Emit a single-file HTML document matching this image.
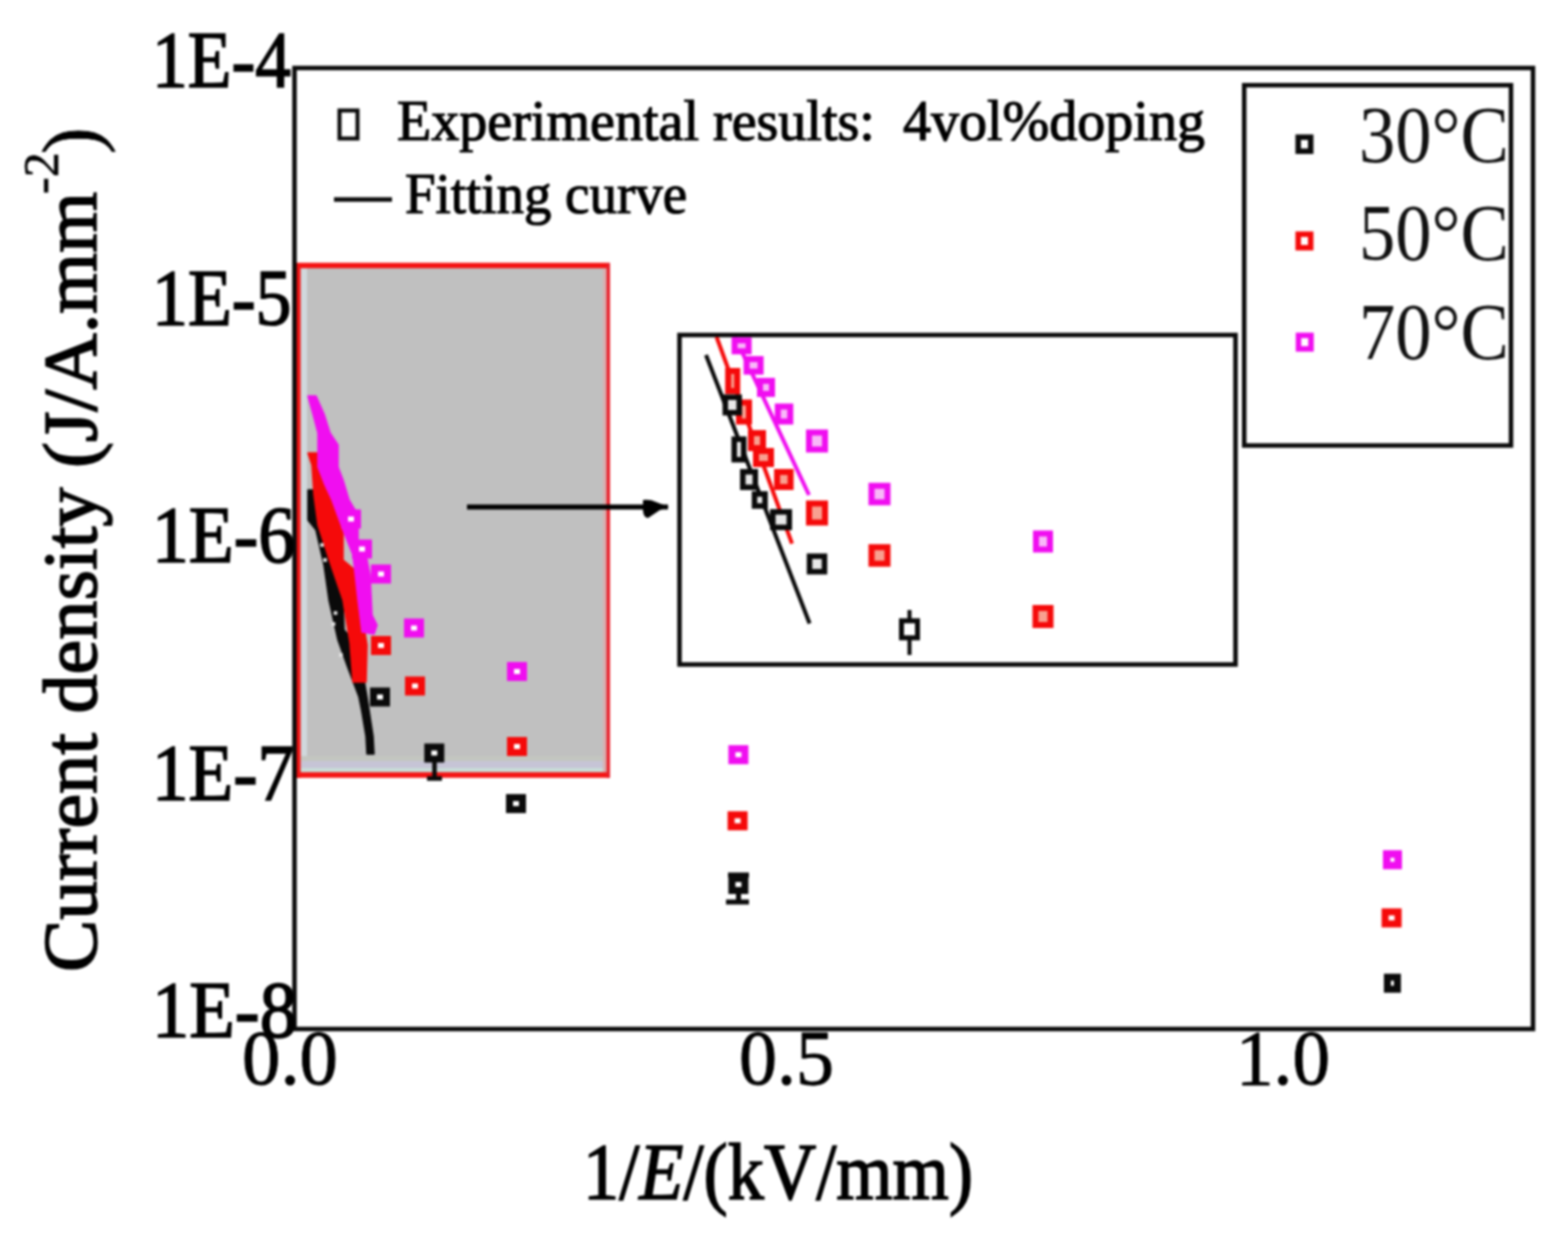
<!DOCTYPE html>
<html><head><meta charset="utf-8"><style>
html,body{margin:0;padding:0;background:#fff;}
svg{display:block;}
#w{filter:blur(0.8px);width:1563px;height:1240px;}
</style></head><body><div id="w">
<svg width="1563" height="1240" viewBox="0 0 1563 1240">
<rect x="0" y="0" width="1563" height="1240" fill="#fff"/>
<rect x="298" y="266" width="310" height="508" fill="#c0c0c0"/>
<rect x="301" y="268" width="6" height="505" fill="#d0d8dc"/>
<rect x="301" y="756" width="303" height="5" fill="#c3c6c0"/>
<rect x="301" y="761" width="303" height="7" fill="#c6c4d6"/>
<rect x="301" y="768" width="303" height="4" fill="#c8dcd8"/>
<rect x="603" y="268" width="4" height="505" fill="#d8b0b0"/>
<path d="M297.8 263 V778 M295 265.4 H610 M295 775 H610" stroke="#f51414" stroke-width="5.5" fill="none"/>
<path d="M608.3 263 V778" stroke="#e8202a" stroke-width="3.5" fill="none"/>
<polygon points="308,490 308,520 316,530 324,565 329,600 338,640 348,668 359,697 361.6,710 366,736 367,754 374,754 373,736 369,710 367,697 362,668 358,645 344,630 343,602 334,565 329,535 320,520 318,490" fill="#0a0a0a" stroke="#0a0a0a" stroke-width="1.5" stroke-linejoin="round"/>
<polygon points="308,453 312,465 314,495 318,525 331,565 343,600 350,643 353,682 366,682 367,645 363,620 360,600 355,570 343,560 343,525 336,500 326,490 324,470 318,453" fill="#f50a0a" stroke="#f50a0a" stroke-width="1.5" stroke-linejoin="round"/>
<polygon points="308,396 313,414 318,433 318,467 325,485 332,500 343,530 353,555 358,600 362,632 374,634 377,625 372,615 370,575 366,555 358,540 358,515 349,500 343,480 338,467 338,445 330,433 324,414 316,396" fill="#f00ef0" stroke="#f00ef0" stroke-width="1.5" stroke-linejoin="round"/>
<rect x="333.7" y="611.2" width="3.6" height="3.6" fill="#e6e6e6"/>
<rect x="331.7" y="622.2" width="3.6" height="3.6" fill="#e6e6e6"/>
<rect x="339.2" y="653.2" width="3.6" height="3.6" fill="#e6e6e6"/>
<rect x="323.2" y="558.2" width="3.6" height="3.6" fill="#e6e6e6"/>
<rect x="320.2" y="543.2" width="3.6" height="3.6" fill="#e6e6e6"/>
<rect x="1386.7" y="854.0" width="11.5" height="11.5" fill="#fff" stroke="#f00ef0" stroke-width="7.5"/>
<rect x="1387.4" y="977.2" width="10.0" height="12.0" fill="#fff" stroke="#0a0a0a" stroke-width="7"/>
<path d="M434.5 760 V778 M427 778.5 H442" stroke="#0a0a0a" stroke-width="4.5" fill="none"/>
<path d="M738.5 880 V902 M726 902 H749 M728 875 H749" stroke="#0a0a0a" stroke-width="5" fill="none"/>
<rect x="344.5" y="513.0" width="13.0" height="12.0" fill="#fff" stroke="#f00ef0" stroke-width="7"/>
<rect x="355.5" y="543.0" width="13.0" height="12.0" fill="#fff" stroke="#f00ef0" stroke-width="7"/>
<rect x="374.5" y="568.0" width="13.0" height="12.0" fill="#fff" stroke="#f00ef0" stroke-width="7"/>
<rect x="407.5" y="622.0" width="13.0" height="12.0" fill="#fff" stroke="#f00ef0" stroke-width="7"/>
<rect x="510.5" y="665.5" width="13.0" height="12.0" fill="#fff" stroke="#f00ef0" stroke-width="7"/>
<rect x="731.9" y="748.7" width="13.0" height="12.0" fill="#fff" stroke="#f00ef0" stroke-width="7"/>
<rect x="374.5" y="639.5" width="13.0" height="12.0" fill="#fff" stroke="#f50a0a" stroke-width="7"/>
<rect x="408.5" y="680.0" width="13.0" height="12.0" fill="#fff" stroke="#f50a0a" stroke-width="7"/>
<rect x="510.5" y="740.5" width="13.0" height="12.0" fill="#fff" stroke="#f50a0a" stroke-width="7"/>
<rect x="731.1" y="814.8" width="13.0" height="12.0" fill="#fff" stroke="#f50a0a" stroke-width="7"/>
<rect x="1385.1" y="911.9" width="13.0" height="12.0" fill="#fff" stroke="#f50a0a" stroke-width="7"/>
<rect x="373.5" y="691.0" width="13.0" height="12.0" fill="#fff" stroke="#0a0a0a" stroke-width="7"/>
<rect x="427.8" y="747.0" width="13.0" height="12.0" fill="#fff" stroke="#0a0a0a" stroke-width="7"/>
<rect x="509.5" y="797.6" width="13.0" height="12.0" fill="#fff" stroke="#0a0a0a" stroke-width="7"/>
<rect x="731.9" y="878.5" width="13.0" height="12.0" fill="#fff" stroke="#0a0a0a" stroke-width="7"/>
<rect x="294.5" y="68" width="1238.5" height="961" fill="none" stroke="#0a0a0a" stroke-width="4.5"/>
<rect x="679.5" y="335" width="556" height="329.5" fill="#fff" stroke="#0a0a0a" stroke-width="4.5"/>
<clipPath id="ic"><rect x="682" y="337" width="551" height="325"/></clipPath>
<g clip-path="url(#ic)">
<line x1="706" y1="355" x2="809.6" y2="623.5" stroke="#0a0a0a" stroke-width="4"/>
<line x1="716.6" y1="337" x2="792" y2="543.6" stroke="#f50a0a" stroke-width="4"/>
<line x1="735" y1="337" x2="809" y2="495" stroke="#f00ef0" stroke-width="4"/>
<rect x="734.6" y="340.3" width="14.0" height="11.0" fill="#f8b8f8" stroke="#f00ef0" stroke-width="6"/>
<rect x="746.6" y="359.1" width="14.0" height="12.5" fill="#f8b8f8" stroke="#f00ef0" stroke-width="6"/>
<rect x="760.0" y="380.9" width="12.0" height="13.0" fill="#f8b8f8" stroke="#f00ef0" stroke-width="6"/>
<rect x="777.8" y="406.5" width="12.5" height="15.0" fill="#f8b8f8" stroke="#f00ef0" stroke-width="6"/>
<rect x="809.0" y="432.5" width="16.0" height="17.0" fill="#f8b8f8" stroke="#f00ef0" stroke-width="6"/>
<rect x="871.5" y="485.8" width="16.0" height="16.5" fill="#f8b8f8" stroke="#f00ef0" stroke-width="6"/>
<rect x="1036.0" y="533.5" width="14.0" height="16.0" fill="#f8b8f8" stroke="#f00ef0" stroke-width="6"/>
<rect x="728.2" y="371.0" width="9.0" height="20.0" fill="#f8a090" stroke="#f50a0a" stroke-width="6"/>
<rect x="739.0" y="402.5" width="10.0" height="19.0" fill="#f8a090" stroke="#f50a0a" stroke-width="6"/>
<rect x="751.0" y="433.1" width="12.0" height="15.0" fill="#f8a090" stroke="#f50a0a" stroke-width="6"/>
<rect x="756.0" y="451.0" width="15.0" height="13.0" fill="#f8a090" stroke="#f50a0a" stroke-width="6"/>
<rect x="777.1" y="472.0" width="13.5" height="15.0" fill="#f8a090" stroke="#f50a0a" stroke-width="6"/>
<rect x="809.0" y="503.5" width="16.0" height="19.0" fill="#f8a090" stroke="#f50a0a" stroke-width="6"/>
<rect x="871.5" y="547.2" width="16.0" height="16.5" fill="#f8a090" stroke="#f50a0a" stroke-width="6"/>
<rect x="1035.5" y="608.0" width="15.0" height="17.0" fill="#f8a090" stroke="#f50a0a" stroke-width="6"/>
<rect x="725.3" y="397.2" width="13.9" height="15.5" fill="#e8e8e8" stroke="#0a0a0a" stroke-width="5.5"/>
<rect x="734.2" y="439.2" width="9.5" height="20.5" fill="#e8e8e8" stroke="#0a0a0a" stroke-width="5.5"/>
<rect x="742.8" y="471.8" width="12.5" height="15.5" fill="#e8e8e8" stroke="#0a0a0a" stroke-width="5.5"/>
<rect x="754.5" y="494.0" width="10.5" height="12.0" fill="#e8e8e8" stroke="#0a0a0a" stroke-width="5.5"/>
<rect x="772.8" y="511.9" width="16.5" height="15.5" fill="#e8e8e8" stroke="#0a0a0a" stroke-width="5.5"/>
<rect x="809.5" y="556.2" width="15.0" height="15.5" fill="#e8e8e8" stroke="#0a0a0a" stroke-width="5.5"/>
<path d="M909.5 610 V655" stroke="#0a0a0a" stroke-width="4"/>
<rect x="901.5" y="620.8" width="16.0" height="17.0" fill="#fff" stroke="#0a0a0a" stroke-width="5"/>
</g>
<rect x="1244.2" y="85.2" width="266.8" height="360.3" fill="#fff" stroke="#0a0a0a" stroke-width="4.5"/>
<rect x="1298.2" y="137.2" width="12.5" height="14.0" fill="#fff" stroke="#0a0a0a" stroke-width="5.5"/>
<rect x="1298.2" y="234.2" width="12.5" height="13.5" fill="#fff" stroke="#f50a0a" stroke-width="5.5"/>
<rect x="1298.5" y="335.4" width="12.5" height="13.5" fill="#fff" stroke="#f00ef0" stroke-width="5.5"/>
<rect x="339.5" y="110.5" width="18" height="28" fill="none" stroke="#0a0a0a" stroke-width="4"/>
<line x1="334" y1="199.5" x2="392" y2="199.5" stroke="#0a0a0a" stroke-width="4.5"/>
<line x1="467" y1="507" x2="668" y2="507" stroke="#000" stroke-width="5"/>
<path d="M643 500 Q650 499 656 502 L669 507 L660 510 Q654 514 648 518 Q643 517 643 510 Z" fill="#000"/>
<text x="152" y="86.5" font-family="Liberation Serif, serif" stroke="#000" stroke-width="1.6" font-size="80" textLength="139" lengthAdjust="spacingAndGlyphs">1E-4</text>
<text x="152" y="324.5" font-family="Liberation Serif, serif" stroke="#000" stroke-width="1.6" font-size="80" textLength="139.5" lengthAdjust="spacingAndGlyphs">1E-5</text>
<text x="152" y="561.5" font-family="Liberation Serif, serif" stroke="#000" stroke-width="1.6" font-size="80" textLength="143" lengthAdjust="spacingAndGlyphs">1E-6</text>
<text x="152" y="799.6" font-family="Liberation Serif, serif" stroke="#000" stroke-width="1.6" font-size="80" textLength="142" lengthAdjust="spacingAndGlyphs">1E-7</text>
<text x="152" y="1037" font-family="Liberation Serif, serif" stroke="#000" stroke-width="1.6" font-size="80" textLength="145" lengthAdjust="spacingAndGlyphs">1E-8</text>
<text x="242" y="1084" font-family="Liberation Serif, serif" stroke="#000" stroke-width="0.9" font-size="78" textLength="96" lengthAdjust="spacingAndGlyphs">0.0</text>
<text x="739" y="1084" font-family="Liberation Serif, serif" stroke="#000" stroke-width="0.9" font-size="78" textLength="95" lengthAdjust="spacingAndGlyphs">0.5</text>
<text x="1236" y="1084" font-family="Liberation Serif, serif" stroke="#000" stroke-width="0.9" font-size="78" textLength="94" lengthAdjust="spacingAndGlyphs">1.0</text>
<text x="583" y="1199" font-family="Liberation Serif, serif" stroke="#000" stroke-width="1.6" font-size="80" textLength="390" lengthAdjust="spacingAndGlyphs">1/<tspan font-style="italic">E</tspan>/(kV/mm)</text>
<text transform="translate(96,972) rotate(-90)" font-family="Liberation Serif, serif" stroke="#000" stroke-width="1.6" font-size="76" textLength="780" lengthAdjust="spacingAndGlyphs">Current density (J/A.mm</text>
<text transform="translate(57.5,194) rotate(-90)" font-family="Liberation Serif, serif" stroke="#000" stroke-width="0.6" font-size="50">-2</text>
<text transform="translate(98,154) rotate(-90)" font-family="Liberation Serif, serif" stroke="#000" stroke-width="0.6" font-size="80">)</text>
<text x="397" y="140" style="white-space:pre" font-family="Liberation Serif, serif" stroke="#000" stroke-width="1.2" font-size="57" textLength="808" lengthAdjust="spacingAndGlyphs">Experimental results:  4vol%doping</text>
<text x="405" y="213" font-family="Liberation Serif, serif" stroke="#000" stroke-width="1.2" font-size="57" textLength="282" lengthAdjust="spacingAndGlyphs">Fitting curve</text>
<text x="1359" y="162" font-family="Liberation Serif, serif" fill="#111" font-size="80" textLength="150" lengthAdjust="spacingAndGlyphs">30°C</text>
<text x="1359" y="260" font-family="Liberation Serif, serif" fill="#111" font-size="80" textLength="150" lengthAdjust="spacingAndGlyphs">50°C</text>
<text x="1359" y="359" font-family="Liberation Serif, serif" fill="#111" font-size="80" textLength="150" lengthAdjust="spacingAndGlyphs">70°C</text>
</svg></div>
</body></html>
